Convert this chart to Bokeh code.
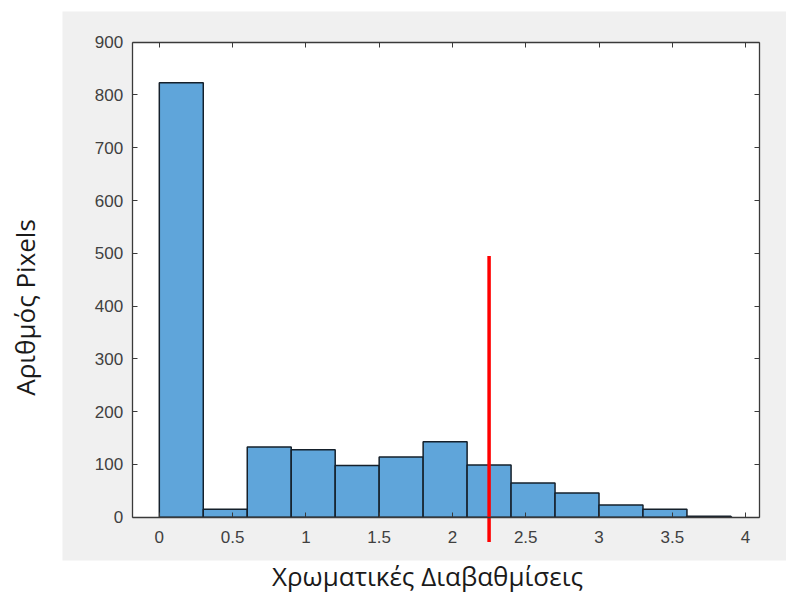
import math
from bokeh.plotting import figure
from bokeh.models import Range1d, LinearAxis, FixedTicker, Label, CustomJSTickFormatter
from bokeh.embed import file_html
from bokeh.resources import INLINE

# Histogram: bin edges and pixel counts per bin
bin_edges = [0.0, 0.3, 0.6, 0.9, 1.2, 1.5, 1.8, 2.1, 2.4, 2.7, 3.0, 3.3, 3.6, 3.9]
counts = [823, 15, 133, 128, 98, 114, 143, 99, 65, 46, 23, 15, 2]

# Threshold marker
threshold = 2.25
threshold_low, threshold_high = -47, 495

# Axis ticks
x_ticks = [0, 0.5, 1, 1.5, 2, 2.5, 3, 3.5, 4]
y_ticks = [0, 100, 200, 300, 400, 500, 600, 700, 800, 900]

x_title = "Χρωματικές Διαβαθμίσεις"
y_title = "Αριθμός Pixels"

# Axes box limits (data units)
X_LIM = (-0.185, 4.095)
Y_LIM = (0, 900)

# Page geometry (pixels): the frame covers the whole canvas
W, H = 786, 594
PANEL_L, PANEL_R, PANEL_T, PANEL_B = 62, 786, 11, 560
BOX_L, BOX_R, BOX_T, BOX_B = 131.7, 759, 41.7, 516.7

sx = (BOX_R - BOX_L) / (X_LIM[1] - X_LIM[0])
sy = (BOX_B - BOX_T) / (Y_LIM[1] - Y_LIM[0])


def dx(px):
    return X_LIM[0] + (px - BOX_L) / sx


def dy(py):
    return Y_LIM[0] + (BOX_B - py) / sy


p = figure(width=W, height=H, x_range=Range1d(dx(0), dx(W)), y_range=Range1d(dy(H), dy(0)),
           output_backend="svg", toolbar_location=None,
           x_axis_location=None, y_axis_location=None,
           min_border=0, min_border_left=0, min_border_right=0,
           min_border_top=0, min_border_bottom=0,
           background_fill_color="white", border_fill_color="white",
           outline_line_color=None)
p.grid.visible = False

# Grey figure panel and white axes box
p.quad(left=[dx(PANEL_L)], right=[dx(PANEL_R)], bottom=[dy(PANEL_B)], top=[dy(PANEL_T)],
       fill_color="#f0f0f0", line_color=None)
p.quad(left=[X_LIM[0]], right=[X_LIM[1]], bottom=[Y_LIM[0]], top=[Y_LIM[1]],
       fill_color="white", line_color=None)

# Histogram bars
p.quad(left=bin_edges[:-1], right=bin_edges[1:], bottom=0, top=counts,
       fill_color="#5fa5da", line_color="#15202b", line_width=1.5)

# Threshold line
p.segment(x0=[threshold], y0=[threshold_low], x1=[threshold], y1=[threshold_high],
          line_color="#ff0000", line_width=3.5)

AX_COLOR = "#3a3a3a"
LBL_COLOR = "#404040"
fmt = CustomJSTickFormatter(code="return String(tick);")


def style(ax, labels=True):
    ax.axis_line_color = AX_COLOR
    ax.axis_line_width = 1.3
    ax.major_tick_line_color = AX_COLOR
    ax.major_tick_in = 5
    ax.major_tick_out = 0
    ax.minor_tick_line_color = None
    ax.major_label_text_font = "Liberation Sans"
    ax.major_label_text_font_size = "17px"
    ax.major_label_text_color = LBL_COLOR if labels else None


xb = LinearAxis(fixed_location=Y_LIM[0], bounds=X_LIM,
                ticker=FixedTicker(ticks=x_ticks), formatter=fmt)
style(xb)
xb.major_label_standoff = 14
p.add_layout(xb, "below")

xt = LinearAxis(fixed_location=Y_LIM[1], bounds=X_LIM,
                ticker=FixedTicker(ticks=x_ticks), formatter=fmt)
style(xt, labels=False)
p.add_layout(xt, "above")

yl = LinearAxis(fixed_location=X_LIM[0], bounds=Y_LIM,
                ticker=FixedTicker(ticks=y_ticks))
style(yl)
yl.major_label_standoff = 9
p.add_layout(yl, "left")

yr = LinearAxis(fixed_location=X_LIM[1], bounds=Y_LIM,
                ticker=FixedTicker(ticks=y_ticks))
style(yr, labels=False)
p.add_layout(yr, "right")

# Axis titles
p.add_layout(Label(x=dx(427), y=dy(575), text=x_title,
                   text_align="center", text_baseline="middle",
                   text_font="Open Sans", text_font_size="26px",
                   text_color="#1a1a1a"))
p.add_layout(Label(x=dx(24), y=dy(307), text=y_title, angle=math.pi / 2,
                   text_align="center", text_baseline="middle",
                   text_font="Open Sans", text_font_size="26px",
                   text_color="#1a1a1a"))

open("out.html", "w").write(file_html(p, INLINE))
